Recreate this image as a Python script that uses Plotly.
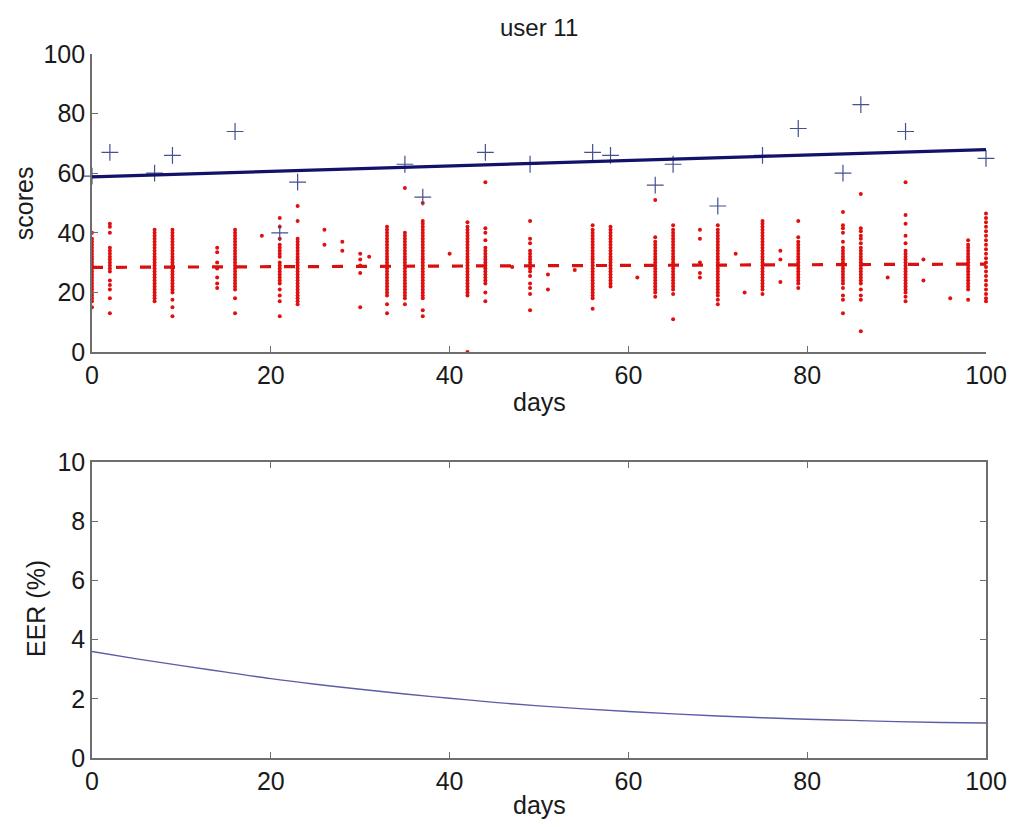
import plotly.graph_objects as go

# ---------------- data ----------------
genuine_days = [0, 2, 7, 9, 16, 21, 23, 35, 37, 44, 49, 56, 58, 63, 65, 70, 75, 79, 84, 86, 91, 100]
genuine_scores = [59, 67, 60, 66, 74, 40, 57, 63, 52, 67, 63, 67, 66, 56, 63, 49, 66, 75, 60, 83, 74, 65]

fit_days = [0, 100]
genuine_fit = [58.8, 67.9]
impostor_fit = [28.4, 29.5]

impostor_days = [0, 2, 7, 9, 14, 16, 19, 21, 23, 26, 28, 30, 31, 33, 35, 37, 40, 42, 44, 47,
                 49, 51, 54, 56, 58, 61, 63, 65, 68, 70, 72, 73, 75, 77, 79, 84, 86, 89, 91,
                 93, 96, 98, 100]
impostor_scores = [
    [40, 38, 37, 36, 35, 34, 33, 32, 31, 30, 29, 28, 27, 26, 25, 24, 23, 22, 21, 20, 19, 18, 17, 15],
    [43, 42, 40, 35, 34, 33, 32, 31, 30, 29, 28, 27, 24, 22.5, 21, 18, 13],
    [41, 40, 39, 38, 37, 36, 35, 34, 33, 32, 31, 30, 29, 28, 27, 26, 25, 24, 23, 22, 21, 20, 19, 18, 17],
    [41, 40, 39, 38, 37, 36, 35, 34, 33, 32, 31, 30, 29, 28, 27, 26, 25, 24, 23, 22, 21, 20, 17.5, 15, 12],
    [35, 33.5, 30, 28, 25, 23, 21.5],
    [41, 40, 39, 38, 37, 36, 35, 34, 33, 32, 31, 30, 29, 28, 27, 26, 25, 24, 23, 22, 21, 18, 13],
    [39],
    [45, 42, 38, 36, 35, 34, 33, 32, 30, 29, 28, 27, 26, 25, 24, 23, 21, 19, 17, 12],
    [49, 44, 38, 37, 36, 35, 34, 33, 32, 31, 30, 29, 28, 27, 26, 25, 24, 23, 22, 21, 20, 19, 18, 17, 16],
    [41, 36],
    [37, 34],
    [33, 31, 29, 26.5, 15],
    [32],
    [42, 41, 40, 39, 38, 37, 36, 35, 34, 33, 32, 31, 30, 29, 28, 27, 26, 25, 24, 23, 22, 21, 20, 19, 16, 13],
    [55, 40, 39, 38, 37, 36, 35, 34, 33, 32, 31, 30, 29, 28, 27, 26, 25, 24, 23, 22, 21, 20, 19, 18, 16],
    [50, 44, 43, 42, 41, 40, 39, 38, 37, 36, 35, 34, 33, 32, 31, 30, 29, 28, 27, 26, 25, 24, 23, 22, 21, 20, 19, 18, 14, 12],
    [33],
    [43.5, 42, 41, 40, 39, 38, 37, 36, 35, 34, 33, 32, 31, 30, 29, 28, 27, 26, 25, 24, 23, 22, 21, 20, 19, 0],
    [57, 41.5, 40, 37.5, 35, 34, 33, 32, 31, 30, 29, 28, 27, 26, 25, 24, 23, 20, 17],
    [28.5],
    [44, 38, 36.5, 34, 33, 32, 31, 30, 29, 28, 27, 25.5, 23, 21.5, 19.5, 14],
    [26, 21],
    [27.5],
    [42.5, 41, 40, 39, 38, 37, 36, 35, 34, 33, 32, 31, 30, 29, 28, 27, 26, 25, 24, 23, 22, 21, 20, 19, 18, 14.5],
    [42, 41, 40, 39, 38, 37, 36, 35, 34, 33, 32, 31, 30, 29, 28, 27, 26, 25, 24, 23, 22],
    [25],
    [51, 38.5, 37, 36, 35, 34, 33, 32, 31, 30, 29, 28, 27, 26, 25, 24, 23, 22, 21, 20, 18.5],
    [42.5, 41, 40, 39, 38, 37, 36, 35, 34, 33, 32, 31, 30, 29, 28, 27, 26, 25, 24, 23, 22, 21, 19.5, 11],
    [41, 38, 30, 26.5, 25],
    [42.5, 41, 40, 39, 38, 37, 36, 35, 34, 33, 32, 31, 30, 29, 28, 27, 26, 25, 24, 23, 22, 21, 20, 19, 17.5, 16],
    [33],
    [20],
    [44, 43, 42, 41, 40, 39, 38, 37, 36, 35, 34, 33, 32, 31, 30, 29, 28, 27, 26, 25, 24, 23, 22, 21, 19.5],
    [34, 31, 23.5],
    [44, 38.5, 37, 36, 35, 34, 33, 32, 31, 30, 29, 28, 27, 26, 25, 24, 23, 21.5],
    [47, 42.5, 41.5, 40, 37, 35, 34, 33, 32, 31, 30, 29, 28, 27, 26, 25, 24, 23, 21.5, 19, 17.5, 13],
    [53, 41.5, 40.5, 39, 38, 36.5, 35, 34, 33, 32, 31, 30, 29, 28, 27, 26, 25, 24, 23, 21, 19, 17.5, 7],
    [25],
    [57, 46, 43, 39, 36.5, 34, 33, 32, 31, 30, 29, 28, 27, 26, 25, 24, 23, 22, 21, 20, 18.5, 17],
    [31, 24],
    [18],
    [37.5, 36, 35, 34, 33, 32, 31, 30, 29, 28, 27, 26, 25, 24, 23, 22, 21, 17.5],
    [46.5, 45, 43.5, 42, 40.5, 39, 37.5, 36, 34.5, 33, 31.5, 30, 28.5, 27, 25.5, 24, 22.5, 21, 19.5, 18, 17],
]

eer_days = [0, 5, 10, 15, 20, 25, 30, 35, 40, 45, 50, 55, 60, 65, 70, 75, 80, 85, 90, 95, 100]
eer_values = [3.60, 3.35, 3.12, 2.90, 2.68, 2.49, 2.32, 2.16, 2.02, 1.88, 1.76, 1.66, 1.57,
              1.49, 1.42, 1.36, 1.31, 1.27, 1.23, 1.20, 1.18]

title_text = "user 11"
x_ticks = [0, 20, 40, 60, 80, 100]
score_ticks = [0, 20, 40, 60, 80, 100]
eer_ticks = [0, 2, 4, 6, 8, 10]

# ---------------- figure ----------------
FONT = "Liberation Sans, Arial, Helvetica, sans-serif"
AXIS_COLOR = "#6e6e6e"

imp_x, imp_y = [], []
for d, vals in zip(impostor_days, impostor_scores):
    imp_x.extend([d] * len(vals))
    imp_y.extend(vals)

fig = go.Figure()

fig.add_trace(go.Scatter(
    x=imp_x, y=imp_y, mode="markers", xaxis="x", yaxis="y",
    marker=dict(symbol="circle", size=4, color="#e01010", line=dict(width=0)),
    cliponaxis=False, showlegend=False, hoverinfo="skip"))

fig.add_trace(go.Scatter(
    x=genuine_days, y=genuine_scores, mode="markers", xaxis="x", yaxis="y",
    marker=dict(symbol="cross-thin", size=12, line=dict(width=1.2, color="#44508f")),
    cliponaxis=False, showlegend=False))

fig.add_trace(go.Scatter(
    x=fit_days, y=impostor_fit, mode="lines", xaxis="x", yaxis="y",
    line=dict(color="#d81010", width=3.2, dash="11px,13px"), showlegend=False))

fig.add_trace(go.Scatter(
    x=fit_days, y=genuine_fit, mode="lines", xaxis="x", yaxis="y",
    line=dict(color="#12126a", width=3.2), showlegend=False))

fig.add_trace(go.Scatter(
    x=eer_days, y=eer_values, mode="lines", xaxis="x2", yaxis="y2",
    line=dict(color="#5c5ca8", width=1.4, shape="spline"), showlegend=False))

axis_common = dict(
    showgrid=False, zeroline=False, showline=True, linecolor=AXIS_COLOR, linewidth=1.6,
    ticks="inside", ticklen=6, tickwidth=1, tickcolor=AXIS_COLOR, automargin=False,
    tickfont=dict(family=FONT, size=25, color="#1a1a1a"),
)

fig.update_layout(
    width=1012, height=827,
    margin=dict(l=92, r=26, t=54, b=69, autoexpand=False),
    paper_bgcolor="white", plot_bgcolor="white",
    xaxis=dict(domain=[0, 1], range=[0, 100], tickvals=x_ticks, anchor="y", **axis_common),
    yaxis=dict(domain=[0.5767, 1], range=[0, 100], tickvals=score_ticks, anchor="x", **axis_common),
    xaxis2=dict(domain=[0, 1], range=[0, 100], tickvals=x_ticks, anchor="y2", mirror="ticks", **axis_common),
    yaxis2=dict(domain=[0, 0.4205], range=[0, 10], tickvals=eer_ticks, anchor="x2", mirror="ticks", **axis_common),
    annotations=[
        dict(text=title_text, x=0.5, y=1.038, xref="paper", yref="paper", showarrow=False,
             xanchor="center", yanchor="middle", font=dict(family=FONT, size=24, color="#1a1a1a")),
        dict(text="days", x=0.5, y=0.5057, xref="paper", yref="paper", showarrow=False,
             xanchor="center", yanchor="middle", font=dict(family=FONT, size=25, color="#1a1a1a")),
        dict(text="days", x=0.5, y=-0.0668, xref="paper", yref="paper", showarrow=False,
             xanchor="center", yanchor="middle", font=dict(family=FONT, size=25, color="#1a1a1a")),
        dict(text="scores", x=(24 - 92) / 894, y=0.788, xref="paper", yref="paper", showarrow=False,
             textangle=-90, xanchor="center", yanchor="middle", font=dict(family=FONT, size=25, color="#1a1a1a")),
        dict(text="EER (%)", x=(36 - 92) / 894, y=0.2116, xref="paper", yref="paper", showarrow=False,
             textangle=-90, xanchor="center", yanchor="middle", font=dict(family=FONT, size=25, color="#1a1a1a")),
    ],
)

fig.write_html("out.html")
